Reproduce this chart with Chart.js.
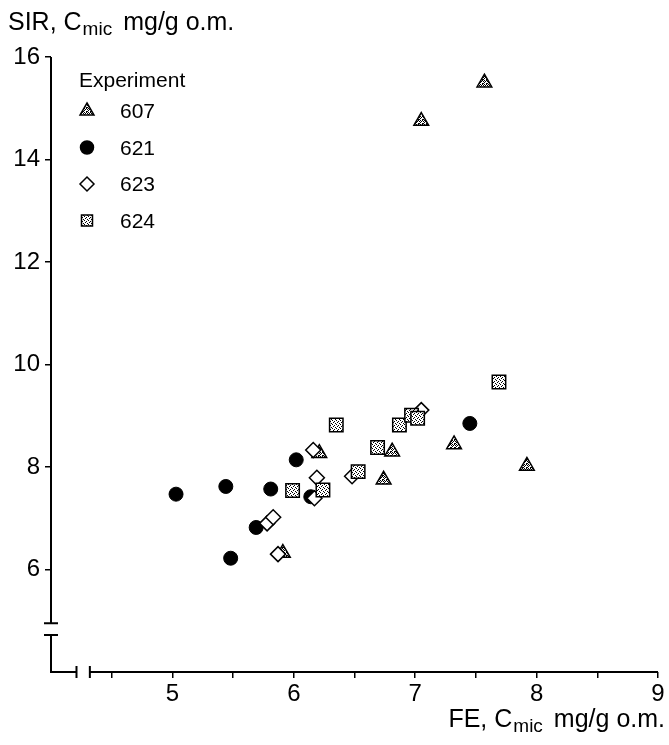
<!DOCTYPE html>
<html>
<head>
<meta charset="utf-8">
<script src="https://cdn.jsdelivr.net/npm/chart.js@4.4.1/dist/chart.umd.min.js"></script>
<style>
  html, body { margin: 0; padding: 0; background: #fff; }
  #wrap { width: 669px; height: 745px; }
</style>
</head>
<body>
<div id="wrap"><canvas id="chart" width="669" height="745"></canvas></div>
<script>
// values (FE on x, SIR on y)
const exp607X = [7.57, 7.05, 6.21, 6.74, 6.81, 5.91, 7.32, 7.92];
const exp607Y = [15.50, 14.75, 8.27, 7.75, 8.30, 6.32, 8.44, 8.02];

const exp621X = [5.03, 5.44, 5.81, 6.02, 5.69, 5.48, 6.14, 7.45];
const exp621Y = [7.47, 7.62, 7.57, 8.14, 6.82, 6.22, 7.42, 8.85];

const exp623X = [6.16, 6.19, 6.17, 5.78, 5.83, 5.87, 6.48, 7.05];
const exp623Y = [8.33, 7.79, 7.39, 6.90, 7.02, 6.30, 7.82, 9.11];

const exp624X = [6.35, 5.99, 6.24, 6.53, 6.69, 6.87, 6.97, 7.02, 7.69];
const exp624Y = [8.82, 7.54, 7.55, 7.91, 8.38, 8.82, 9.01, 8.95, 9.66];

const xTicks = [5, 6, 7, 8, 9];
const yTicks = [6, 8, 10, 12, 14, 16];
const legendTitle = "Experiment";
const legendLabels = ["607", "621", "623", "624"];

const FONT = "'Liberation Sans', Arial, Helvetica, sans-serif";

function pts(xs, ys) {
  return xs.map((x, i) => ({ x: x, y: ys[i] }));
}

// stipple fills like the printed symbols
function makePattern(dots) {
  const c = document.createElement("canvas");
  c.width = 4; c.height = 4;
  const g = c.getContext("2d");
  g.fillStyle = "#fff";
  g.fillRect(0, 0, 4, 4);
  g.fillStyle = "#000";
  dots.forEach(d => g.fillRect(d[0], d[1], 1, 1));
  return g.createPattern(c, "repeat");
}
const triFill = makePattern([[0, 0], [2, 0], [1, 1], [3, 1], [0, 2], [2, 3], [3, 3]]);
const sqFill = makePattern([[0, 0], [2, 1], [1, 2], [3, 3]]);

const datasets = [
  { label: "607", data: pts(exp607X, exp607Y), pointStyle: "triangle", radius: 8.5,
    backgroundColor: triFill, borderColor: "#000", borderWidth: 1.5, order: 4 },
  { label: "621", data: pts(exp621X, exp621Y), pointStyle: "circle", radius: 7,
    backgroundColor: "#000", borderColor: "#000", borderWidth: 1, order: 3 },
  { label: "623", data: pts(exp623X, exp623Y), pointStyle: "rectRot", radius: 7.5,
    backgroundColor: "#fff", borderColor: "#000", borderWidth: 1.5, order: 2 },
  { label: "624", data: pts(exp624X, exp624Y), pointStyle: "rect", radius: 9.5,
    backgroundColor: sqFill, borderColor: "#000", borderWidth: 1.5, order: 1 }
];

function drawSym(ctx, style, x, y, r, fill) {
  ctx.save();
  ctx.fillStyle = fill;
  ctx.strokeStyle = "#000";
  ctx.lineWidth = 1.5;
  ctx.beginPath();
  if (style === "circle") {
    ctx.arc(x, y, r, 0, Math.PI * 2);
  } else if (style === "triangle") {
    ctx.moveTo(x, y - r);
    ctx.lineTo(x + r * 0.87, y + r * 0.5);
    ctx.lineTo(x - r * 0.87, y + r * 0.5);
    ctx.closePath();
  } else if (style === "rectRot") {
    ctx.moveTo(x, y - r); ctx.lineTo(x + r, y); ctx.lineTo(x, y + r); ctx.lineTo(x - r, y);
    ctx.closePath();
  } else {
    ctx.rect(x - r, y - r, 2 * r, 2 * r);
  }
  ctx.fill();
  ctx.stroke();
  ctx.restore();
}

function drawTitle(ctx, x, y, main, sub, rest, align) {
  ctx.save();
  ctx.fillStyle = "#000";
  ctx.textBaseline = "alphabetic";
  ctx.textAlign = "left";
  const big = "25px " + FONT, small = "19px " + FONT;
  ctx.font = big; const w1 = ctx.measureText(main).width;
  const w3 = ctx.measureText(rest).width;
  ctx.font = small; const w2 = ctx.measureText(sub).width;
  const gap = 12;
  let x0 = align === "right" ? x - (w1 + w2 + gap + w3) : x;
  ctx.font = big; ctx.fillText(main, x0, y);
  ctx.font = small; ctx.fillText(sub, x0 + w1 + 1, y + 5);
  ctx.font = big; ctx.fillText(rest, x0 + w1 + w2 + gap, y);
  ctx.restore();
}

const brokenAxes = {
  id: "brokenAxes",
  afterDraw(chart) {
    const ctx = chart.ctx;
    const xs = chart.scales.x, ys = chart.scales.y;
    const left = xs.getPixelForValue(4), bottom = ys.getPixelForValue(4);
    const top = ys.getPixelForValue(16), right = xs.getPixelForValue(9);
    const yb1 = ys.getPixelForValue(4.95), yb2 = ys.getPixelForValue(4.72);
    const xb1 = xs.getPixelForValue(4.21), xb2 = xs.getPixelForValue(4.32);
    ctx.save();
    ctx.strokeStyle = "#000";
    ctx.lineWidth = 2;
    ctx.beginPath();
    // y axis, upper part with cap
    ctx.moveTo(left, top); ctx.lineTo(left, yb1);
    ctx.moveTo(left - 7, yb1); ctx.lineTo(left + 7, yb1);
    // y axis, lower stub, corner and x stub
    ctx.moveTo(left - 7, yb2); ctx.lineTo(left + 7, yb2);
    ctx.moveTo(left, yb2); ctx.lineTo(left, bottom); ctx.lineTo(xb1, bottom);
    ctx.moveTo(xb1, bottom - 6); ctx.lineTo(xb1, bottom + 6);
    // x axis, main part with cap
    ctx.moveTo(xb2, bottom - 6); ctx.lineTo(xb2, bottom + 6);
    ctx.moveTo(xb2, bottom); ctx.lineTo(right, bottom);
    ctx.stroke();
    ctx.restore();

    drawTitle(ctx, 8, 30, "SIR, C", "mic", "mg/g o.m.", "left");
    drawTitle(ctx, 665, 727, "FE, C", "mic", "mg/g o.m.", "right");

    // legend
    ctx.save();
    ctx.fillStyle = "#000";
    ctx.font = "21px " + FONT;
    ctx.textBaseline = "alphabetic";
    ctx.fillText(legendTitle, 79, 87);
    const fills = [triFill, "#000", "#fff", sqFill];
    const styles = ["triangle", "circle", "rectRot", "rect"];
    const sizes = [8, 6.5, 7, 5.5];
    legendLabels.forEach((lab, i) => {
      const cy = 111 + i * 36.5;
      drawSym(ctx, styles[i], 87, cy, sizes[i], fills[i]);
      ctx.fillStyle = "#000";
      ctx.fillText(lab, 120, cy + 7);
    });
    ctx.restore();
  }
};

new Chart(document.getElementById("chart"), {
  type: "scatter",
  data: { datasets: datasets },
  options: {
    responsive: false,
    animation: false,
    layout: { padding: { top: 57, right: 9, left: 0, bottom: 0 } },
    plugins: { legend: { display: false }, tooltip: { enabled: false } },
    scales: {
      x: {
        type: "linear", min: 4, max: 9,
        afterFit: s => { s.height = 73; },
        border: { display: false },
        grid: {
          drawOnChartArea: false, drawTicks: true, tickLength: 6, lineWidth: 1.5,
          color: c => (c.tick && c.tick.value === 4 ? "rgba(0,0,0,0)" : "#000")
        },
        ticks: {
          stepSize: 0.5, autoSkip: false, maxRotation: 0, padding: 2,
          color: "#000", font: { family: FONT, size: 24 },
          callback: v => (xTicks.includes(v) ? String(v) : "")
        }
      },
      y: {
        type: "linear", min: 4, max: 16,
        afterFit: s => { s.width = 51; },
        border: { display: false },
        grid: {
          drawOnChartArea: false, drawTicks: true, tickLength: 6, lineWidth: 1.5,
          color: c => (c.tick && c.tick.value === 4 ? "rgba(0,0,0,0)" : "#000")
        },
        ticks: {
          stepSize: 2, autoSkip: false, padding: 5,
          color: "#000", font: { family: FONT, size: 24 },
          callback: v => (yTicks.includes(v) ? String(v) : "")
        }
      }
    }
  },
  plugins: [brokenAxes]
});
</script>
</body>
</html>
